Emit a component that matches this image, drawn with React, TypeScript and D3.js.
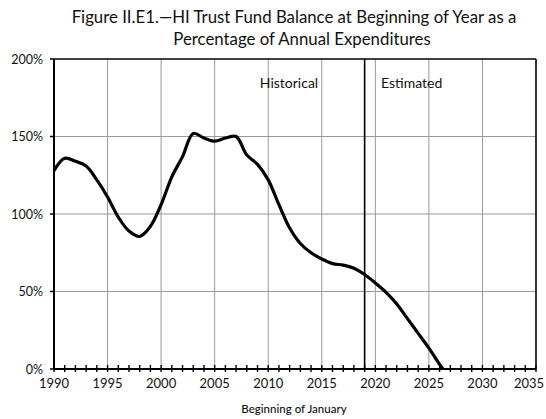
import React from "react";
import * as d3 from "d3";

const years = [1990,1991,1992,1993,1994,1995,1996,1997,1998,1999,2000,2001,2002,2003,2004,2005,2006,2007,2008,2009,2010,2011,2012,2013,2014,2015,2016,2017,2018,2019,2020,2021,2022,2023,2024,2025,2026,2026.3];
const ratios = [128,136,134,131,122,111,98,89,85.5,92,106,124,137,152,149,147,149,150,138,132,122,106,91,81,75,71,68,67,65,61,55.5,49.5,42,32.5,23,13.5,3,0];
const yTicks = [0,50,100,150,200];
const xTicks = [1990,1995,2000,2005,2010,2015,2020,2025,2030,2035];
const titleLines = ["Figure II.E1.\u2014HI Trust Fund Balance at Beginning of Year as a", "Percentage of Annual Expenditures"];
const divideYear = 2019;

export default function App() {
  const W = 546, H = 419;
  const L = 54, R = 536, T = 59, B = 369;
  const x = d3.scaleLinear().domain([1990, 2035]).range([L, R]);
  const y = d3.scaleLinear().domain([0, 200]).range([B, T]);
  const line = d3.line<number>().x((_, i) => x(years[i])).y((d) => y(d)).curve(d3.curveCatmullRom.alpha(0.5));
  const minor = d3.range(1990, 2036);
  const font = "Lato, 'Open Sans', sans-serif";
  return (
    <svg width={W} height={H} style={{ position: "absolute", left: 0, top: 0, background: "#fff" }} fontFamily={font}>
      {titleLines.map((t, i) => (
        <text key={i} x={i === 0 ? 294 : 302} y={23 + i * 22} textAnchor="middle" fontSize={16.8} fill="#111">{t}</text>
      ))}
      {xTicks.slice(1, -1).map((t) => (
        <line key={"gx" + t} x1={x(t)} x2={x(t)} y1={T} y2={B} stroke="#999" strokeWidth={1} />
      ))}
      {yTicks.slice(1, -1).map((t) => (
        <line key={"gy" + t} x1={L} x2={R} y1={y(t)} y2={y(t)} stroke="#999" strokeWidth={1} />
      ))}
      <line x1={x(divideYear)} x2={x(divideYear)} y1={T} y2={B} stroke="#000" strokeWidth={1.6} />
      <text x={289} y={88} textAnchor="middle" fontSize={14} fill="#111">Historical</text>
      <text x={381} y={88} textAnchor="start" fontSize={14} fill="#111">Estimated</text>
      <path d={line(ratios) || ""} fill="none" stroke="#000" strokeWidth={3.2} strokeLinejoin="round" />
      <line x1={L} x2={R} y1={T} y2={T} stroke="#000" strokeWidth={1.6} />
      <line x1={R} x2={R} y1={T} y2={B} stroke="#000" strokeWidth={1.6} />
      <line x1={L} x2={L} y1={T} y2={B} stroke="#000" strokeWidth={2} />
      <line x1={L} x2={R} y1={B} y2={B} stroke="#000" strokeWidth={2.2} />
      {yTicks.map((t) => (
        <g key={"yt" + t}>
          <line x1={L - 4} x2={L} y1={y(t)} y2={y(t)} stroke="#000" strokeWidth={1.5} />
          <text x={L - 11} y={y(t) + 4.5} textAnchor="end" fontSize={12.5} fill="#111">{t + "%"}</text>
        </g>
      ))}
      {minor.map((t) => (
        <line key={"mt" + t} x1={x(t)} x2={x(t)} y1={B - 4} y2={B + 3} stroke="#000" strokeWidth={1.4} />
      ))}
      {xTicks.map((t) => (
        <text key={"xt" + t} x={Math.min(x(t), 529)} y={388} textAnchor="middle" fontSize={13} fill="#111">{t}</text>
      ))}
      <text x={294} y={413} textAnchor="middle" fontSize={11.5} fontWeight={500} fill="#111">Beginning of January</text>
    </svg>
  );
}
